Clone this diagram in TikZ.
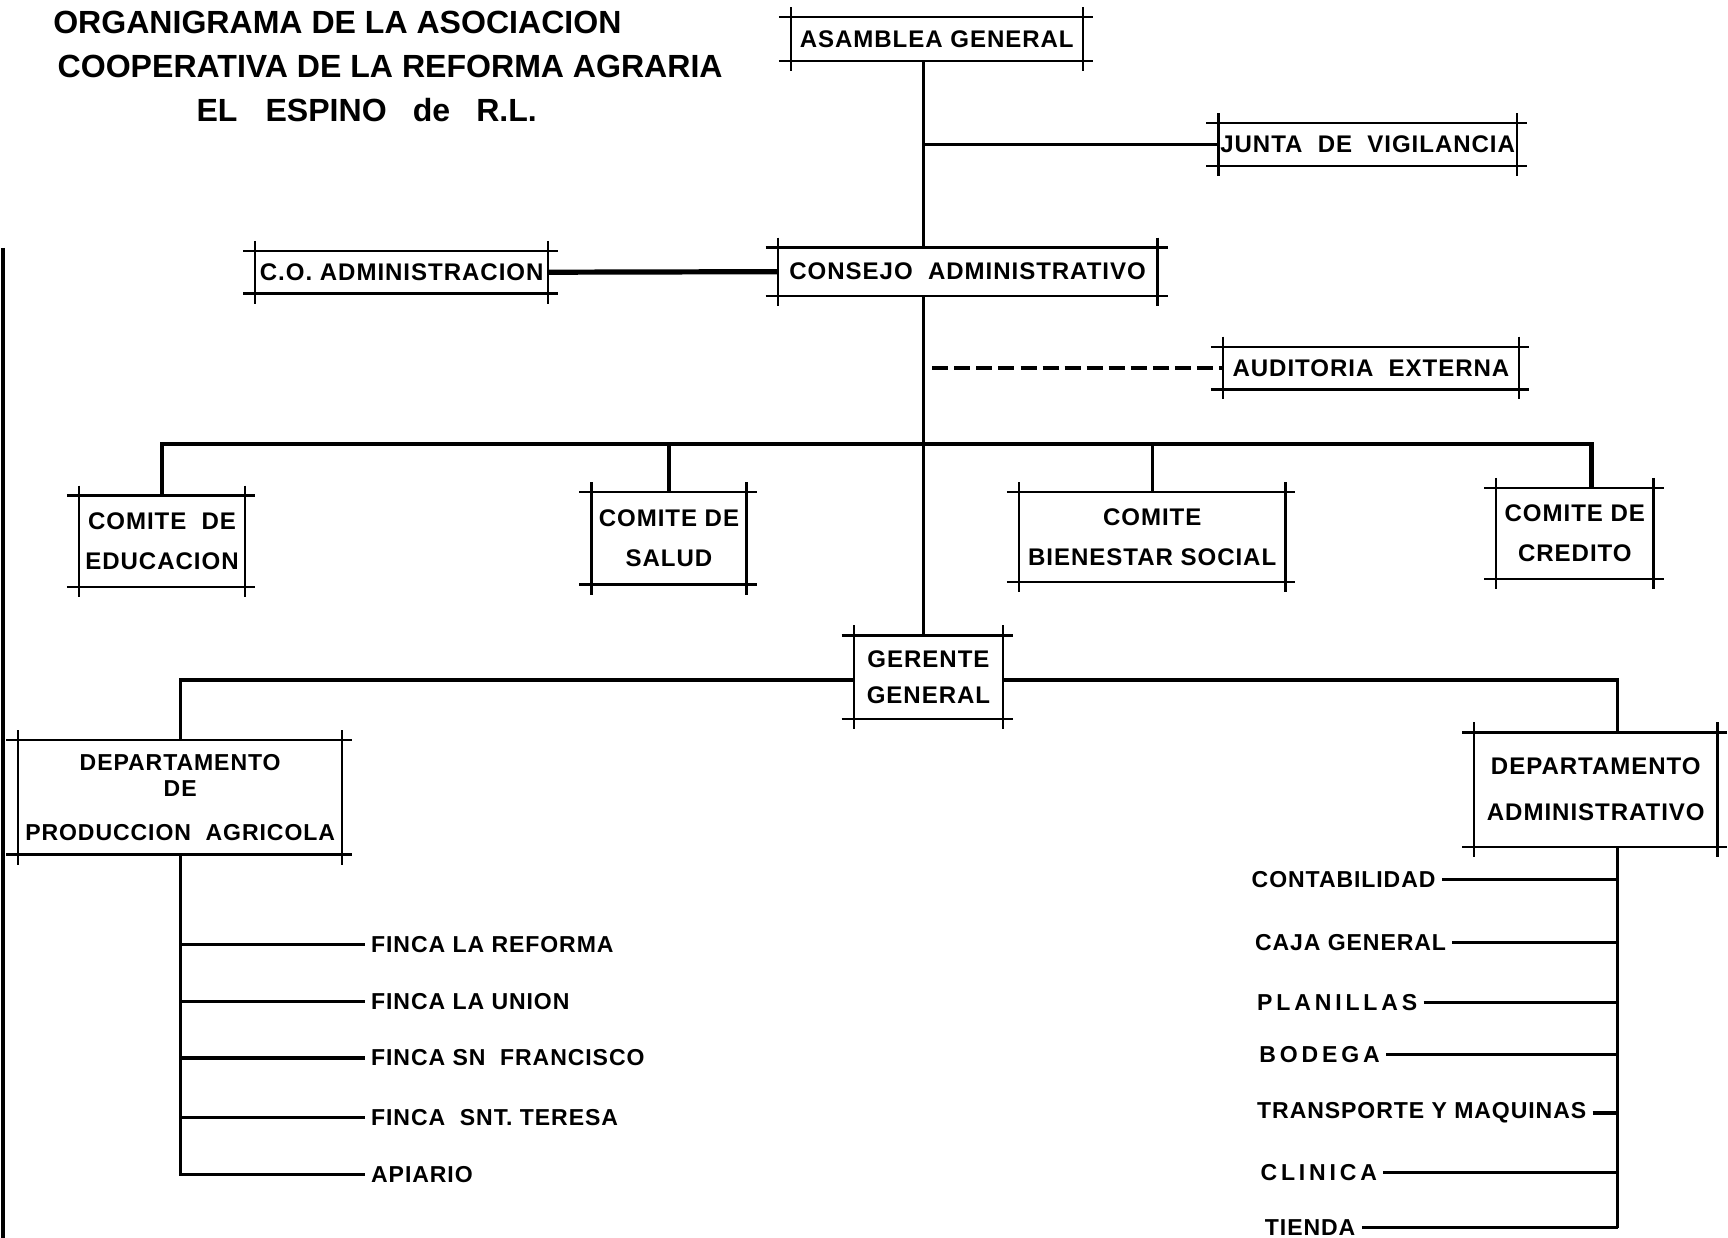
\documentclass[tikz,border=0pt]{standalone}
\usepackage{fontspec}
\setmainfont{Liberation Sans}
\newfontfamily\orgfont{Liberation Sans Bold}[LetterSpace=4]
\newfontfamily\headfont{Liberation Sans Bold}
\usepackage{tikz}
\usetikzlibrary{positioning,calc}

\tikzset{
  org/.style={font=\orgfont\fontsize{12}{14}\selectfont, align=center, inner sep=0pt},
  item/.style={font=\orgfont\fontsize{11.5}{13.5}\selectfont, inner sep=3pt},
  head/.style={font=\headfont\fontsize{16}{19}\selectfont, inner sep=0pt, anchor=west},
  frame/.style={line width=1.1pt},
  conn/.style={line width=1.6pt},
  busline/.style={line width=2.2pt}
}
\newcommand{\crossbox}[1]{\draw[frame]
  ([xshift=-6pt]#1.north west) -- ([xshift=5pt]#1.north east)
  ([xshift=-6pt]#1.south west) -- ([xshift=5pt]#1.south east)
  ([yshift=5pt]#1.north west) -- ([yshift=-5pt]#1.south west)
  ([yshift=5pt]#1.north east) -- ([yshift=-5pt]#1.south east);}

\begin{document}
\begin{tikzpicture}[x=0.55pt,y=-0.55pt]
\useasboundingbox (0,0) rectangle (1568,1123);
\draw[line width=2pt] (3,225) -- (3,1123);

\node[head] (tl1) at (48,20) {ORGANIGRAMA DE LA ASOCIACION};
\node[head] (tl2) at (52,60) {COOPERATIVA DE LA REFORMA AGRARIA};
\node[head] (tl3) at (178,100) {EL\hspace{14pt}ESPINO\hspace{13pt}de\hspace{13pt}R.L.};

\node[org, minimum width=145.2pt, minimum height=21.5pt] (asamblea) at (850,35.5) {ASAMBLEA GENERAL};
\node[org, minimum width=148.5pt, minimum height=20.9pt] (junta) at (1241,131) {JUNTA\ \ DE\ \ VIGILANCIA};
\node[org, minimum width=189.2pt, minimum height=23.7pt] (consejo) at (878,246.5) {CONSEJO\ \ ADMINISTRATIVO};
\node[org, minimum width=145.8pt, minimum height=20.9pt] (coadm) at (364.5,247) {C.O. ADMINISTRACION};
\node[org, minimum width=147.4pt, minimum height=20.9pt] (auditoria) at (1244,334) {AUDITORIA\ \ EXTERNA};
\node[org, minimum width=82.5pt, minimum height=45.1pt] (educacion) at (147,491) {COMITE\ \ DE\\[6pt]EDUCACION};
\node[org, minimum width=77pt, minimum height=45.7pt] (salud) at (607,488.5) {COMITE DE\\[6pt]SALUD};
\node[org, minimum width=132.6pt, minimum height=44.6pt] (bienestar) at (1045.5,487.5) {COMITE\\[6pt]BIENESTAR SOCIAL};
\node[org, minimum width=78.1pt, minimum height=45.1pt] (credito) at (1429,484) {COMITE DE\\[6pt]CREDITO};
\node[org, minimum width=74.3pt, minimum height=41.3pt] (gerente) at (842.5,614.5) {GERENTE\\[4pt]GENERAL};
\node[org, font=\orgfont\fontsize{11.5}{13}\selectfont, minimum width=161.2pt, minimum height=56.7pt] (prod) at (163.5,723.5) {DEPARTAMENTO\\DE\\[9pt]PRODUCCION\ \ AGRICOLA};
\node[org, minimum width=121pt, minimum height=56.7pt] (admin) at (1448,716.5) {DEPARTAMENTO\\[9pt]ADMINISTRATIVO};

\crossbox{asamblea}
\crossbox{junta}
\crossbox{consejo}
\crossbox{coadm}
\crossbox{auditoria}
\crossbox{educacion}
\crossbox{salud}
\crossbox{bienestar}
\crossbox{credito}
\crossbox{gerente}
\crossbox{prod}
\crossbox{admin}

\coordinate (t) at (838,0);
\coordinate (ta) at (846,0);
\coordinate (bus) at (0,403);
\coordinate (g) at (0,617);
\coordinate (cr) at ($(credito.north)+(15,0)$);
\coordinate (ad) at ($(admin.north)+(20,0)$);

\draw[conn] (t |- asamblea.south) -- (t |- consejo.north);
\draw[conn] (t |- junta.west) -- (junta.west);
\draw[conn] (t |- consejo.south) -- (t |- gerente.north);
\draw[line width=2.6pt] (coadm.east) -- (consejo.west);
\draw[conn, dash pattern=on 8pt off 3pt] (ta |- auditoria.west) -- (auditoria.west);
\draw[busline] (educacion.north) |- (bus -| cr) -- (cr);
\draw[conn] (salud.north) -- (salud.north |- bus);
\draw[conn] (bienestar.north) -- (bienestar.north |- bus);
\draw[conn] (gerente.west |- g) -| (prod.north);
\draw[conn] (gerente.east |- g) -| (ad);

\node[item, anchor=west] (f1) at (331,857) {FINCA LA REFORMA};
\node[item, anchor=west] (f2) at (331,909) {FINCA LA UNION};
\node[item, anchor=west] (f3) at (331,960) {FINCA SN\ \ FRANCISCO};
\node[item, anchor=west] (f4) at (331,1014) {FINCA\ \ SNT. TERESA};
\node[item, anchor=west] (f5) at (331,1066) {APIARIO};
\draw[conn] (prod.south) |- (f5.west);
\draw[conn] (prod.south |- f1.west) -- (f1.west);
\draw[conn] (prod.south |- f2.west) -- (f2.west);
\draw[conn] (prod.south |- f3.west) -- (f3.west);
\draw[conn] (prod.south |- f4.west) -- (f4.west);

\node[item, anchor=west] (a1) at (1130,798) {CONTABILIDAD};
\node[item, anchor=west] (a2) at (1133,855) {CAJA GENERAL};
\node[item, anchor=west] (a3) at (1135,910) {P\,L\,A\,N\,I\,L\,L\,A\,S};
\node[item, anchor=west] (a4) at (1137,957) {B\,O\,D\,E\,G\,A};
\node[item, anchor=west] (a5) at (1135,1010) {TRANSPORTE Y MAQUINAS};
\node[item, anchor=west] (a6) at (1138,1064) {C\,L\,I\,N\,I\,C\,A};
\node[item, anchor=west] (a7) at (1142,1114) {TIENDA};
\draw[conn] (ad |- admin.south) -- (ad |- a7.east);
\draw[conn] (a1.east) -- (ad |- a1.east);
\draw[conn] (a2.east) -- (ad |- a2.east);
\draw[conn] (a3.east) -- (ad |- a3.east);
\draw[conn] (a4.east) -- (ad |- a4.east);
\draw[conn] (a5.east) -- (ad |- a5.east);
\draw[conn] (a6.east) -- (ad |- a6.east);
\draw[conn] (a7.east) -- (ad |- a7.east);
\end{tikzpicture}
\end{document}
